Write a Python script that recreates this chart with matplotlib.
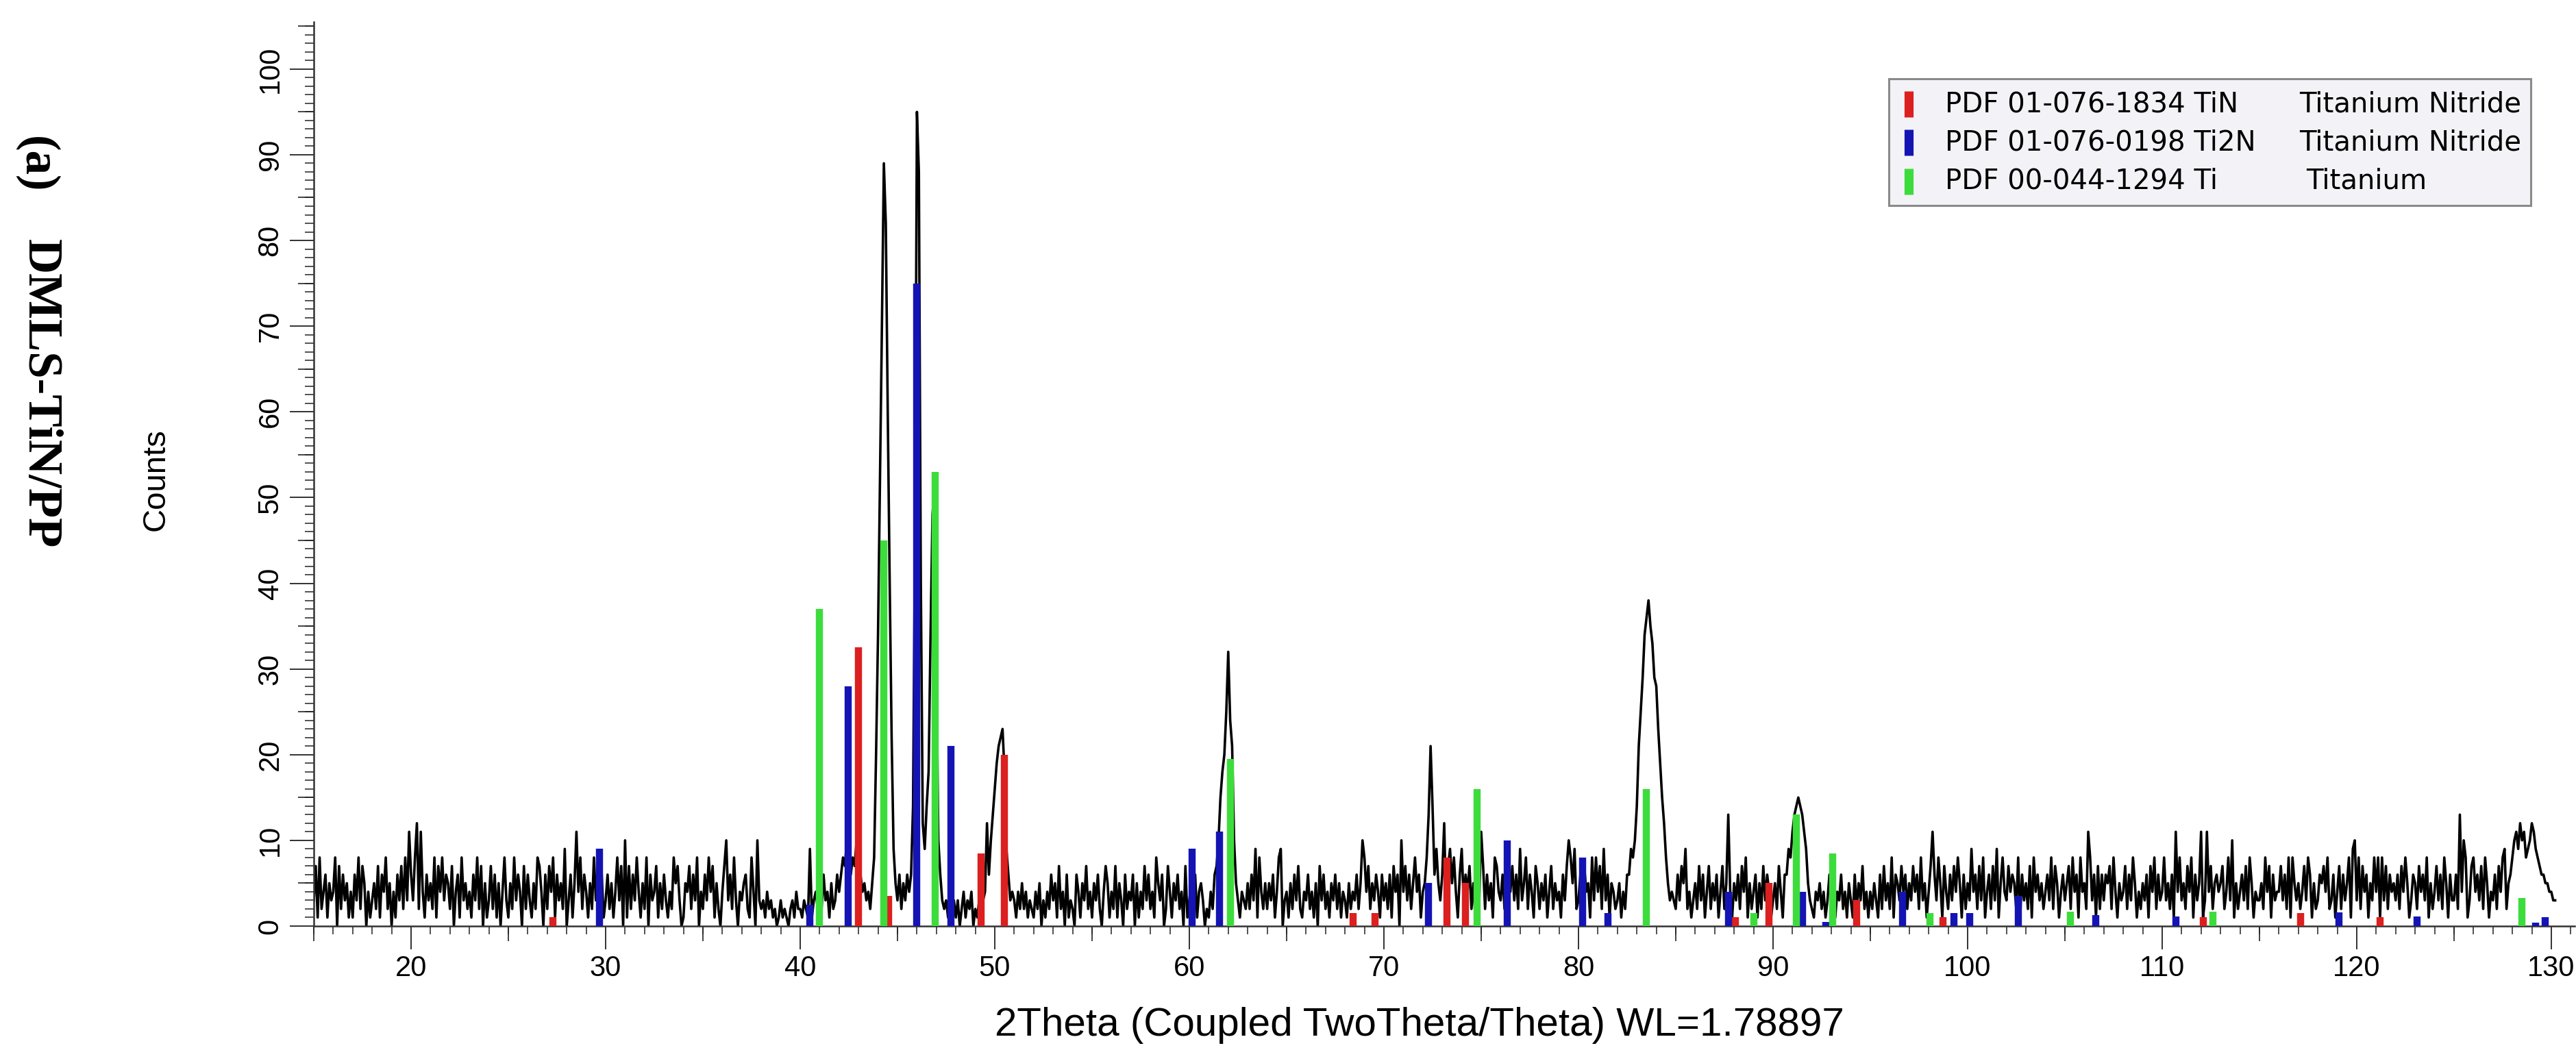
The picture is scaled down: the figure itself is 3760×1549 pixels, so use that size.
import numpy as np
import matplotlib
matplotlib.use("Agg")
import matplotlib.pyplot as plt
from matplotlib.lines import Line2D
from matplotlib.patches import Rectangle
from matplotlib.ticker import MultipleLocator

STEP = 0.1  # 2theta step of the scan, degrees

# measured pattern: one digit per 0.1 deg where the counts stay under 10
bg_15_42 = ("3718246153" "4807263514" "1638275041" "3527164825" "0416372839"
            "6385274163" "5281748365" "2704618352" "4163827051" "3726150483"
            "1528364072" "6315287406" "2748163529" "0361574826" "4152837061"
            "3625148370" "5172638415" "2806347152" "6314285730" "1547263804"
            "2638471520" "4713628304" "3562184073" "2314231201" "3121023142"
            "2132191342" "5263415236")
bg_47_49 = "31423" "1302413240" "21313"
bg_51_61 = ("3142524132" "1425031426" "3517240613" "2064153724" "1536204751"
            "4271530624" "3605142736" "2418536027" "4153624071" "3526145302"
            "142")
bg_62_72 = ("1432" "5263918425" "2536148903" "4152637214" "3624150736"
            "2415362514" "3152436251" "8472536416" "3526174605" "4736258461")
bg_72_82 = ("53" "6927958416" "9364725183" "4726351874" "3625847362"
            "9358264175" "2536147253" "4163728592" "3627451838" "4729361542"
            "351426")
bg_84_90 = ("43" "2637592413" "5273614725" "3614725941" "5362748152"
            "4615273641" "3527416")
bg_92_128 = ("2143524136" "2514362415" "3162537241" "4253162735" "2816537462"
             "5374628351" "4726385174" "2637485162" "5394627381" "4627391584"
             "3746528163" "5271846352" "4638275146" "3572846184" "5248361726"
             "3657284153" "4726385142" "5361748263" "4835261748" "3527481635"
             "6138472564" "5724839152" "4637285143" "3528471634" "4736281853"
             "5247386152" "3657482361" "4726358194" "3827461538" "4818372645"
             "3627485136" "5274638152" "4736285163" "3627458137" "8463728514"
             "362748925")

# peak regions, 0.1 deg steps from the given start
peak_42_47 = [4, 6, 8, 7, 10, 9, 6, 8, 7, 10, 8, 6, 4, 5, 3, 4, 2, 5, 8, 20,
              34, 52, 70, 89, 82, 60, 40, 22, 9, 5, 3, 6, 2, 5, 3, 6, 4, 6, 14, 45,
              95, 88, 40, 12, 9, 14, 18, 34, 48, 51, 30, 10, 6, 3, 2]
peak_50 = [4, 12, 6, 10, 13, 16, 19, 21, 22, 23, 18, 9, 6, 3, 4]
peak_62 = [6, 7, 10, 15, 18, 20, 25, 32, 24, 21, 10, 5, 3]
peak_72 = [4, 5, 8, 13, 21, 14, 6, 9]
peak_83 = [6, 9, 8, 10, 14, 21, 25, 29, 34, 36, 38, 35, 33, 29, 28, 23, 19, 15, 12, 8, 5, 3]
peak_91 = [6, 9, 8, 11, 13, 14, 15, 14, 13, 11, 9, 5, 3]
peak_129 = [6, 8, 10, 11, 9, 12, 10, 11, 8, 9, 10, 12, 11, 9, 8, 7, 6, 6, 5, 5, 4, 4, 3, 3]

# single noise spikes of 10 counts or more
spike_2theta = [19.9, 20.3, 20.5, 28.5, 31.0, 36.2, 37.8, 68.9, 70.9, 73.1, 75.0, 79.5,
                87.7, 98.2, 106.2, 110.7, 112.0, 112.3, 113.6, 119.9, 125.3, 125.5]
spike_counts = [11, 12, 11, 11, 10, 10, 10, 10, 10, 12, 11, 10,
                13, 11, 11, 11, 11, 11, 10, 10, 13, 10]

# reference patterns (stick positions / heights on the counts scale)
tin_2theta = [27.3, 43.0, 44.55, 49.3, 50.5, 68.4, 69.55, 73.25, 74.2, 88.05, 89.8,
              94.3, 98.75, 112.1, 117.1, 121.2]
tin_counts = [1, 32.5, 3.5, 8.5, 20, 1.5, 1.5, 8, 5, 1, 5, 3, 1, 1, 1.5, 1]
ti2n_2theta = [29.7, 40.5, 42.45, 46.0, 47.75, 60.15, 61.55, 72.3, 76.35, 80.2, 81.5,
               87.7, 91.5, 92.7, 96.65, 99.3, 100.1, 102.6, 106.6, 110.7, 119.1, 123.1,
               129.2, 129.7]
ti2n_counts = [9, 2.5, 28, 75, 21, 9, 11, 5, 10, 8, 1.5, 4, 4, 0.5, 4, 1.5, 1.5, 3.5,
               1.3, 1.1, 1.6, 1.1, 0.4, 1.0]
ti_2theta = [41.0, 44.3, 46.95, 62.1, 74.8, 83.5, 89.0, 91.2, 93.05, 98.05, 105.3, 112.6, 128.5]
ti_counts = [37, 45, 53, 19.5, 16, 16, 1.5, 13, 8.5, 1.5, 1.7, 1.7, 3.3]

legend_codes = ["PDF 01-076-1834 TiN", "PDF 01-076-0198 Ti2N", "PDF 00-044-1294 Ti"]
legend_names = ["Titanium Nitride", "Titanium Nitride", "Titanium"]
colors = ["#dc1f1f", "#1414b4", "#3ddc3d"]


def digits(s):
    return [int(c) for c in s]


segments = [
    (15.0, digits(bg_15_42)), (42.0, peak_42_47), (47.5, digits(bg_47_49)),
    (49.5, peak_50), (51.0, digits(bg_51_61)), (61.3, peak_62),
    (62.6, digits(bg_62_72)), (72.0, peak_72), (72.8, digits(bg_72_82)),
    (82.6, peak_83), (84.8, digits(bg_84_90)), (90.7, peak_91),
    (92.0, digits(bg_92_128)), (127.9, peak_129),
]
two_theta = np.concatenate([s + STEP * np.arange(len(v)) for s, v in segments])
counts = np.concatenate([np.asarray(v, float) for s, v in segments])
for pos, val in zip(spike_2theta, spike_counts):
    counts[np.argmin(np.abs(two_theta - pos))] = val

W, H = 3760, 1549
PT = 100 / 72  # pixels per point


def fx(px):
    return px / W


def fy(py):
    return 1 - py / H


plt.rcParams['font.family'] = 'Liberation Sans'
fig = plt.figure(figsize=(W / 100, H / 100), dpi=100)
ax = fig.add_axes([fx(458), fy(1352), (3758 - 458) / W, (1352 - 32) / H])

ax.plot(two_theta, counts, color='black', lw=2.6, zorder=2)
for xs, ys, c in [(tin_2theta, tin_counts, colors[0]),
                  (ti2n_2theta, ti2n_counts, colors[1]),
                  (ti_2theta, ti_counts, colors[2])]:
    ax.vlines(xs, 0, ys, colors=c, lw=7.5, zorder=3, capstyle='butt')

ax.set_xlim(15, 131.2)
ax.set_ylim(0, 105.5)
for s in ['top', 'right']:
    ax.spines[s].set_visible(False)
for s in ['left', 'bottom']:
    ax.spines[s].set_linewidth(1.8)
    ax.spines[s].set_color('#333333')

ax.set_xticks(range(20, 131, 10))
ax.xaxis.set_minor_locator(MultipleLocator(1))
ax.set_yticks(range(0, 101, 10))
ax.yaxis.set_minor_locator(MultipleLocator(1))
ax.tick_params(axis='x', which='major', length=34 / PT, width=1.3, labelsize=30, pad=6, color='#222222')
ax.tick_params(axis='x', which='minor', length=12 / PT, width=1.1, color='#222222')
ax.tick_params(axis='y', which='major', length=35 / PT, width=1.3, labelsize=30, pad=6, color='#222222')
ax.tick_params(axis='y', which='minor', length=13 / PT, width=1.1, color='#222222')
plt.setp(ax.get_yticklabels(), rotation=90, va='center')

# intermediate ticks at the 5s
secx = ax.secondary_xaxis('bottom')
secx.set_xticks(range(15, 131, 10))
secx.tick_params(length=22 / PT, width=1.2, labelbottom=False, color='#222222')
secx.spines['bottom'].set_visible(False)
secy = ax.secondary_yaxis('left')
secy.set_yticks(range(5, 106, 10))
secy.tick_params(length=23 / PT, width=1.2, labelleft=False, color='#222222')
secy.spines['left'].set_visible(False)

ax.set_xlabel("2Theta (Coupled TwoTheta/Theta) WL=1.78897", fontsize=42)
ax.xaxis.set_label_coords((2072 - 458) / 3300, (1352 - 1497) / 1320)
ax.xaxis.label.set_va('center')

fig.text(fx(228), fy(700), "Counts", rotation=90, fontsize=34, ha='center', va='center')
fig.text(fx(53), fy(240), "(a)", rotation=270, fontsize=51, ha='center', va='center',
         family='Liberation Serif', weight='bold')
fig.text(fx(58), fy(575), "DMLS-TiN/PP", rotation=270, fontsize=51, ha='center', va='center',
         family='Liberation Serif', weight='bold')

# legend box
fig.add_artist(Rectangle((fx(2757), fy(300)), (3694 - 2757) / W, (300 - 115) / H,
                         transform=fig.transFigure, fc='#f3f3f7', ec='#8a8a8a', lw=2.2))
row_y = [152, 208, 265]
name_x = [3356, 3356, 3366]
for i in range(3):
    fig.add_artist(Line2D([fx(2786), fx(2786)], [fy(row_y[i] + 19), fy(row_y[i] - 19)],
                          color=colors[i], lw=9.5, transform=fig.transFigure, solid_capstyle='butt'))
    fig.text(fx(2839), fy(row_y[i]), legend_codes[i], fontsize=29, family='DejaVu Sans',
             ha='left', va='center')
    fig.text(fx(name_x[i]), fy(row_y[i]), legend_names[i], fontsize=29, family='DejaVu Sans',
             ha='left', va='center')

fig.savefig("out.png", dpi=100)
